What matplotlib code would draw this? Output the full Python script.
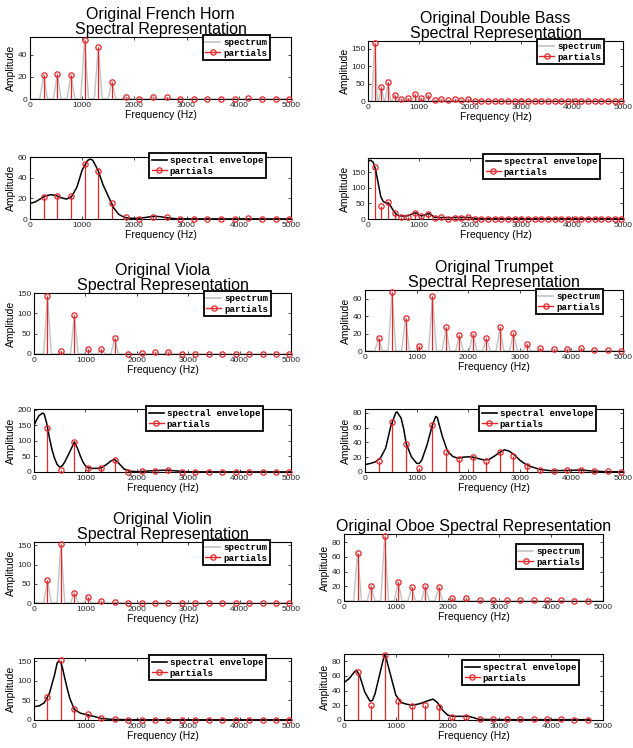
import numpy as np
import matplotlib
matplotlib.use("Agg")
import matplotlib.pyplot as plt
from matplotlib.lines import Line2D
from matplotlib.legend_handler import HandlerLine2D
from matplotlib.ticker import MultipleLocator

# harmonic frequencies (Hz)
FREQ_C4 = [262, 523, 785, 1046, 1308, 1570, 1831, 2093, 2354, 2616, 2877,
           3139, 3400, 3662, 3923, 4185, 4446, 4708, 4970]
FREQ_C3 = [131, 262, 392, 523, 654, 785, 916, 1046, 1177, 1308, 1439, 1570,
           1700, 1831, 1962, 2093, 2224, 2354, 2485, 2616, 2747, 2877, 3008,
           3139, 3270, 3400, 3531, 3662, 3793, 3923, 4054, 4185, 4316, 4446,
           4577, 4708, 4839, 4970]

# partial amplitudes
HORN_AMP = [21.4, 22.6, 21.8, 53.3, 46.6, 15.6, 2.1, 0.3, 2.2, 1.5, 0.3, 0.3,
            0.3, 0.2, 0.3, 0.5, 0.3, 0.2, 0.3]
BASS_AMP = [167, 40.5, 54, 18.3, 6.6, 8, 19.3, 8.6, 17.2, 3, 6, 1.5, 4.5, 4,
            6, 1.2, 1.2, 1.2, 1.2, 1.2, 1.2, 1.2, 1.2, 1.2, 1.2, 1.2, 1.2, 1.2,
            1.2, 1.2, 1.2, 1.2, 1.2, 1.2, 1.2, 1.2, 1.2, 1.2]
VIOLA_AMP = [143, 6.5, 96, 13, 12, 38.5, 1, 2.8, 4.8, 5.6, 0.3, 0.3, 0.3, 0.3,
             0.3, 0.3, 0.3, 0.3, 0.3]
TRUMPET_AMP = [15, 67.3, 37.8, 5.7, 63, 27, 18, 19.8, 14.8, 27, 21.2, 7.8, 3.2,
               1.9, 2.6, 3.2, 1.5, 0.9, 0.4]
VIOLIN_AMP = [59, 154, 27, 15, 5.5, 2.2, 1, 0.5, 0.5, 0.5, 0.5, 0.5, 0.5, 0.5,
              0.5, 0.5, 0.5, 0.5, 0.5]
OBOE_AMP = [65.5, 20.4, 88, 26.3, 18.6, 20.6, 18.4, 4.5, 4.7, 0.7, 1.4, 0.9,
            0.8, 0.7, 0.7, 0.7, 0.6, 0.6]

# spectral envelopes
HORN_ENV_F = [0, 100, 200, 300, 400, 500, 600, 700, 800, 900, 1000, 1100, 1150,
              1200, 1300, 1400, 1500, 1600, 1700, 1800, 1900, 2000, 2100, 2200,
              2300, 2400, 2500, 2600, 2700, 2800, 3000, 4000, 5000]
HORN_ENV_A = [15, 16.5, 19.5, 22.5, 23.5, 22.8, 20.5, 19.3, 22, 31, 47.5, 56.5,
              58, 57, 47.5, 33, 22, 11, 4.5, 1.8, 0.8, 0.6, 0.8, 1.4, 2.2, 2.6,
              2.2, 1.4, 0.7, 0.3, 0.1, 0.1, 0.1]
BASS_ENV_F = [0, 50, 100, 150, 200, 250, 300, 350, 400, 450, 500, 550, 600, 700,
              800, 900, 950, 1000, 1050, 1100, 1200, 1250, 1300, 1400, 1500,
              1600, 1700, 1800, 1900, 2000, 2100, 2200, 3000, 4000, 5000]
BASS_ENV_A = [185, 189, 183, 158, 115, 72, 56, 52, 51, 40, 26, 16, 11, 9, 11,
              19, 19.5, 13, 10, 12, 18, 12, 6, 4.5, 5, 4, 5, 5, 5, 5, 2, 1.2,
              1, 1, 1]
VIOLA_ENV_F = [0, 50, 100, 170, 200, 250, 300, 350, 400, 450, 500, 550, 600,
               700, 785, 850, 900, 950, 1000, 1050, 1150, 1250, 1300, 1400,
               1500, 1570, 1650, 1750, 1850, 2000, 2200, 2400, 2600, 2800, 3000,
               5000]
VIOLA_ENV_A = [150, 168, 182, 190, 186, 155, 110, 72, 44, 24, 16, 20, 33, 66,
               97, 75, 52, 33, 20, 14, 11.5, 12, 13, 23, 36, 40, 28, 10, 3, 1,
               3, 5, 6, 3, 0.5, 0.3]
TRUMPET_ENV_F = [0, 100, 200, 300, 400, 500, 600, 620, 700, 750, 800, 900, 1000,
                 1050, 1100, 1200, 1300, 1370, 1400, 1500, 1600, 1700, 1800,
                 1900, 2000, 2100, 2200, 2300, 2400, 2500, 2600, 2700, 2800,
                 2900, 3000, 3100, 3200, 3400, 3600, 3800, 4000, 4200, 4400,
                 4600, 5000]
TRUMPET_ENV_A = [10, 11.5, 13.6, 19, 32, 62, 80.5, 81, 72.7, 58, 38, 20.5, 11.8,
                 11.4, 16, 36, 62, 75, 73.6, 47.7, 28, 21, 18.6, 20, 20.5, 20,
                 18, 16.4, 16.8, 21, 26, 30, 28, 22.7, 16, 11, 7.7, 3.2, 1.8, 2,
                 2.3, 2.7, 1.4, 0.6, 0.2]
VIOLIN_ENV_F = [0, 100, 200, 300, 400, 450, 480, 520, 550, 600, 650, 700, 785,
                900, 1040, 1200, 1300, 1500, 1800, 2500, 5000]
VIOLIN_ENV_A = [34, 36, 44, 68, 115, 145, 150, 146, 135, 106, 78, 54, 27, 17.5,
                13, 8, 4.3, 1.7, 0.8, 0.5, 0.5]
OBOE_ENV_F = [0, 100, 200, 240, 300, 400, 500, 550, 600, 700, 780, 800, 900,
              1000, 1100, 1200, 1300, 1400, 1500, 1600, 1720, 1800, 1900, 2000,
              2100, 2200, 2400, 2500, 2600, 3000, 4730]
OBOE_ENV_A = [51, 56.5, 65.5, 68, 61, 38.4, 25.8, 26.7, 36, 65.5, 89, 88, 61,
              34, 24, 21.7, 20.3, 21.2, 23, 25.8, 28.5, 24, 13.6, 6.8, 5, 5, 5,
              3.2, 0.9, 0.5, 0.5]

TITLES = ['Original French Horn\nSpectral Representation',
          'Original Double Bass\nSpectral Representation',
          'Original Viola\nSpectral Representation',
          'Original Trumpet\nSpectral Representation',
          'Original Violin\nSpectral Representation',
          'Original Oboe Spectral Representation']

W, H = 633, 748
plt.rcParams.update({
    'font.family': 'Liberation Sans',
    'axes.linewidth': 0.8,
    'xtick.direction': 'in',
    'ytick.direction': 'in',
    'xtick.top': True,
    'ytick.right': True,
    'xtick.labelsize': 6,
    'ytick.labelsize': 6,
    'xtick.major.size': 2.5,
    'ytick.major.size': 2.5,
    'xtick.major.width': 0.6,
    'ytick.major.width': 0.6,
    'xtick.major.pad': 2,
    'ytick.major.pad': 2,
    'xtick.color': '#262626',
    'ytick.color': '#262626',
})

GRAY = '#c2c2c2'
RED = '#e8262a'


class StemHandler(HandlerLine2D):
    # MATLAB style stem legend: marker at right end of line
    def get_xdata(self, legend, xdescent, ydescent, width, height, fontsize):
        xdata, _ = super().get_xdata(legend, xdescent, ydescent, width, height, fontsize)
        return xdata, np.array([-xdescent + 0.9 * width])


def px_axes(fig, l, t, r, b):
    return fig.add_axes([l / W, 1 - b / H, (r - l) / W, (b - t) / H])


def draw_stems(ax, f, a):
    ax.vlines(f, 0, a, color=RED, lw=0.9, zorder=3)
    ax.plot(f, a, 'o', ms=3.8, mfc='none', mec=RED, mew=0.9, zorder=5, clip_on=False)


def draw_spectrum(ax, f, a, hw):
    xs, ys = [0], [0]
    for fi, ai in zip(f, a):
        xs += [fi - hw, fi, fi + hw]
        ys += [0, ai, 0]
    xs.append(5000)
    ys.append(0)
    ax.plot(xs, ys, color=GRAY, lw=1.0, zorder=2)


def add_legend(ax, first, anchor):
    h1 = Line2D([], [], color=GRAY if first == 'spectrum' else 'black', lw=1.2)
    h2 = Line2D([], [], color=RED, lw=1.0, marker='o', ms=3.8, mfc='none', mec=RED, mew=0.9)
    leg = ax.legend([h1, h2], [first, 'partials'], loc='upper right',
                    bbox_to_anchor=(anchor[0] / W, 1 - anchor[1] / H),
                    bbox_transform=ax.figure.transFigure,
                    handler_map={h2: StemHandler()},
                    prop={'family': 'Liberation Mono', 'weight': 'bold', 'size': 6.6},
                    frameon=True, fancybox=False, edgecolor='black', framealpha=1,
                    borderpad=0.3, labelspacing=0.2, handlelength=1.6,
                    handletextpad=0.35, borderaxespad=0)
    leg.get_frame().set_linewidth(1.3)
    leg.set_zorder(10)


def style(ax, ymax, ystep):
    ax.set_xlim(0, 5000)
    ax.set_ylim(0, ymax)
    ax.xaxis.set_major_locator(MultipleLocator(1000))
    ax.yaxis.set_major_locator(MultipleLocator(ystep))
    ax.set_xlabel('Frequency (Hz)', fontsize=7.5, labelpad=1)
    ax.set_ylabel('Amplitude', fontsize=7.5, labelpad=1)


fig = plt.figure(figsize=(W / 100, H / 100), dpi=100)

panels = [
    # freqs, amps, env_f, env_a, spectrum half width, title
    (FREQ_C4, HORN_AMP, HORN_ENV_F, HORN_ENV_A, 75, TITLES[0]),
    (FREQ_C3, BASS_AMP, BASS_ENV_F, BASS_ENV_A, 55, TITLES[1]),
    (FREQ_C4, VIOLA_AMP, VIOLA_ENV_F, VIOLA_ENV_A, 75, TITLES[2]),
    (FREQ_C4, TRUMPET_AMP, TRUMPET_ENV_F, TRUMPET_ENV_A, 75, TITLES[3]),
    (FREQ_C4, VIOLIN_AMP, VIOLIN_ENV_F, VIOLIN_ENV_A, 75, TITLES[4]),
    (FREQ_C4[:len(OBOE_AMP)], OBOE_AMP, OBOE_ENV_F, OBOE_ENV_A, 75, TITLES[5]),
]

# pixel boxes (l, t, r, b) for spectrum / envelope axes
boxes_spec = [(30, 37, 291, 99), (368, 41, 623, 101), (34, 293, 291, 354),
              (365, 290, 623, 351), (34, 542, 291, 603), (344, 534, 603, 601)]
boxes_env = [(30, 157, 291, 219), (368, 158, 623, 219), (34, 409, 291, 472),
             (365, 409, 623, 472), (34, 658, 291, 720), (344, 654, 603, 720)]
leg_spec = [(270, 35), (604, 39), (271, 291), (603, 289), (270, 540), (583, 544)]
leg_env = [(266, 153), (600, 154), (263, 406), (596, 406), (266, 655), (579, 660)]
ylims_spec = [(56, 20), (173, 50), (150, 50), (70, 20), (159, 50), (91, 20)]
ylims_env = [(60, 20), (196, 50), (203, 50), (85, 20), (158, 50), (90, 20)]

for i, (f, a, ef, ea, hw, title) in enumerate(panels):
    ax = px_axes(fig, *boxes_spec[i])
    draw_spectrum(ax, f, a, hw)
    draw_stems(ax, f, a)
    style(ax, *ylims_spec[i])
    ax.set_title(title, fontsize=11.5, linespacing=1.0, pad=1.5)
    add_legend(ax, 'spectrum', leg_spec[i])

    ax2 = px_axes(fig, *boxes_env[i])
    draw_stems(ax2, f, a)
    ax2.plot(ef, ea, color='black', lw=1.1, zorder=4)
    style(ax2, *ylims_env[i])
    add_legend(ax2, 'spectral envelope', leg_env[i])

plt.savefig('out.png', dpi=100)
plt.close()
